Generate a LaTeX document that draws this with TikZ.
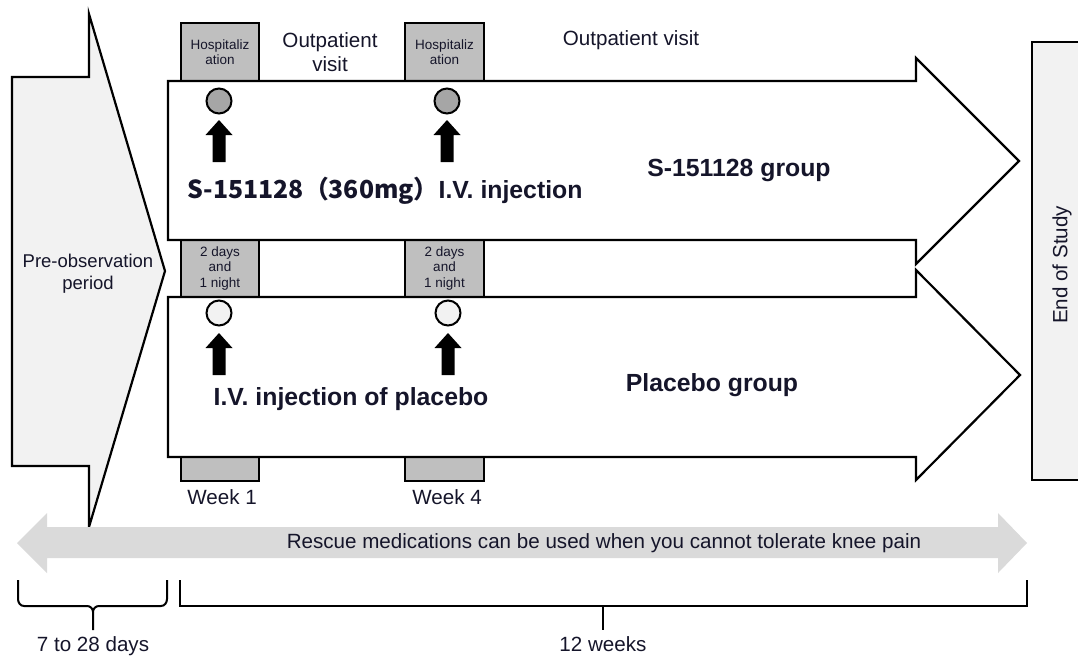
\documentclass[tikz,border=0pt]{standalone}
\usepackage{fontspec}
\setmainfont{Liberation Sans}
\newfontfamily\cjk{Noto Sans CJK JP}
\definecolor{boxgray}{HTML}{BFBFBF}
\definecolor{lightfill}{HTML}{F2F2F2}
\definecolor{dotgray}{HTML}{A6A6A6}
\definecolor{rescuegray}{HTML}{DADADA}
\definecolor{ink}{HTML}{15152A}
\newcommand\blkarrow[2]{\fill[black] (#1,#2) -- (#1+13.5,#2+15) -- (#1+6.5,#2+15) -- (#1+6.5,#2+42) -- (#1-6.5,#2+42) -- (#1-6.5,#2+15) -- (#1-13.5,#2+15) -- cycle;}
\begin{document}
\begin{tikzpicture}[x=1pt,y=-1pt,line join=miter,
  outline/.style={draw=black,line width=2.2pt},
  gbox/.style={draw=black,line width=2.2pt,fill=boxgray,inner sep=0pt,align=center,text=ink,font=\fontsize{13.5}{15.5}\selectfont},
  dot/.style={circle,draw=black,line width=2pt,minimum size=25pt,inner sep=0pt},
  lbl/.style={text=ink,font=\fontsize{20.6}{24}\selectfont,inner sep=0pt},
  bold/.style={text=ink,font=\fontsize{24.8}{28}\selectfont\bfseries,inner sep=0pt},
  brk/.style={draw=black,line width=2pt}]
\useasboundingbox (0,0) rectangle (1078,657);
% pre-observation arrow
\draw[outline,fill=lightfill] (12,77) -- (89,77) -- (89,14) -- (165,271) -- (89,527) -- (89,466) -- (12,466) -- cycle;
\node[lbl,align=center,font=\fontsize{18.5}{22}\selectfont] (pre) at (88,274) {Pre-observation\\period};
% end of study
\draw[outline,fill=lightfill] (1032,42) rectangle (1095,480);
\node[lbl,rotate=90] (eos) at (1062,265) {End of Study};
% gray boxes
\node[gbox,minimum width=78pt,minimum height=58pt] (h1) at (220,52) {Hospitaliz\\ation};
\node[gbox,minimum width=79pt,minimum height=58pt] (h2) at (444.5,52) {Hospitaliz\\ation};
\node[gbox,minimum width=78pt,minimum height=57pt] (m1) at (220,268.5) {2 days\\and\\1 night};
\node[gbox,minimum width=79pt,minimum height=57pt] (m2) at (444.5,268.5) {2 days\\and\\1 night};
\node[gbox,minimum width=78pt,minimum height=24pt] (b1) at (220,469) {};
\node[gbox,minimum width=79pt,minimum height=24pt] (b2) at (444.5,469) {};
% big arrows
\draw[outline,fill=white] (168,81) -- (916,81) -- (916,58) -- (1019,161) -- (916,264) -- (916,240) -- (168,240) -- cycle;
\draw[outline,fill=white] (168,297) -- (916,297) -- (916,270) -- (1020,375) -- (916,480) -- (916,457) -- (168,457) -- cycle;
% dots and arrows
\node[dot,fill=dotgray] (c1) at (219,101) {};
\node[dot,fill=dotgray] (c2) at (447,101) {};
\node[dot,fill=lightfill] (c3) at (219,313) {};
\node[dot,fill=lightfill] (c4) at (448,313) {};
\blkarrow{219}{120}
\blkarrow{447}{120}
\blkarrow{219}{333}
\blkarrow{448}{333}
% texts
\node[lbl,align=center] (ov1) at (330,52) {Outpatient\\visit};
\node[lbl] (ov2) at (631,40) {Outpatient visit};
\node[bold,anchor=base] (s1) at (385,198) {{\cjk\bfseries S-151128（360mg）}I.V. injection};
\node[bold,anchor=base] (sg) at (739,176) {S-151128 group};
\node[bold,anchor=base] (pg) at (712,391) {Placebo group};
\node[bold,anchor=base] (ivp) at (351,405) {I.V. injection of placebo};
\node[lbl] (w1) at (222,497) {Week 1};
\node[lbl] (w4) at (447,497) {Week 4};
% rescue arrow
\fill[rescuegray] (17,543) -- (47,513) -- (47,527) -- (998,527) -- (998,513) -- (1027,543) -- (998,573) -- (998,558) -- (47,558) -- (47,573) -- cycle;
\node[lbl] (resc) at (604,543) {Rescue medications can be used when you cannot tolerate knee pain};
% braces
\draw[brk] (18,580) -- (18,599) to[out=-90,in=180] (24,606) -- (87,606) to[out=0,in=90] (93,612) -- (93,630);
\draw[brk] (167,580) -- (167,599) to[out=-90,in=0] (161,606) -- (99,606) to[out=180,in=90] (93,612);
\draw[brk] (180,580) -- (180,606) -- (1027,606) -- (1027,580);
\draw[brk] (603,606) -- (603,630);
\node[lbl,anchor=base] (d728) at (93,651) {7 to 28 days};
\node[lbl,anchor=base] (w12) at (603,651) {12 weeks};
\end{tikzpicture}
\end{document}
